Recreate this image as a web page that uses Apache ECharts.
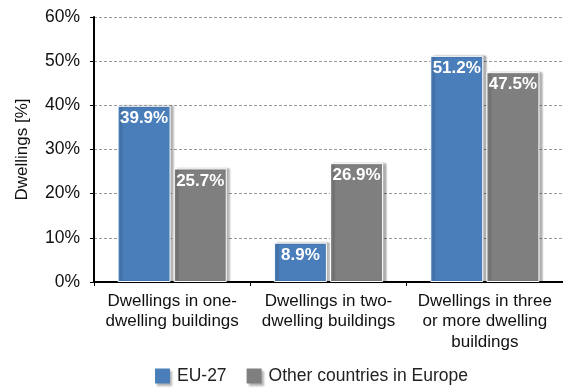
<!DOCTYPE html>
<html><head><meta charset="utf-8">
<script src="https://cdn.jsdelivr.net/npm/echarts@6/dist/echarts.min.js"></script>
<style>html,body{margin:0;padding:0;background:#fff}#c{width:563px;height:391px}</style>
</head><body><div id="c"></div>
<script>
const categories = ["Dwellings in one-\ndwelling buildings", "Dwellings in two-\ndwelling buildings", "Dwellings in three\nor more dwelling\nbuildings"];
const eu27 = [39.9, 8.9, 51.2];
const otherEurope = [25.7, 26.9, 47.5];
const yTicks = [0, 10, 20, 30, 40, 50, 60];
const seriesNames = ["EU-27", "Other countries in Europe"];

const font = "Liberation Sans, Arial, sans-serif";
const chart = echarts.init(document.getElementById('c'));
const labelCfg = {show: true, position: 'insideTop', distance: 4, color: '#fff', fontWeight: 'bold', fontSize: 17, fontFamily: font, formatter: p => p.value.toFixed(1) + '%'};
const shadow = {shadowColor: 'rgba(0,0,0,0.3)', shadowOffsetX: 3, shadowOffsetY: 0, shadowBlur: 2};
chart.setOption({
  animation: false,
  grid: {left: 94, top: 17, bottom: 109, width: 478},
  legend: {bottom: 1, left: 150, icon: 'rect', itemWidth: 15, itemHeight: 15, itemGap: 20,
    itemStyle: {shadowColor: 'rgba(0,0,0,0.3)', shadowOffsetX: 2, shadowOffsetY: 2, shadowBlur: 2, borderWidth: 0},
    textStyle: {fontSize: 17.5, fontFamily: font, color: '#222', padding: [0, 0, 0, 2]}, data: seriesNames},
  xAxis: {type: 'category', data: categories,
    axisLine: {lineStyle: {color: '#000', width: 2}},
    axisTick: {show: true, length: 4, lineStyle: {color: '#000'}},
    axisLabel: {fontSize: 17, fontFamily: font, color: '#111', lineHeight: 20.5, margin: 9, interval: 0}},
  yAxis: {type: 'value', min: 0, max: 60, interval: 10,
    name: 'Dwellings [%]', nameLocation: 'middle', nameGap: 63, nameRotate: 90,
    nameTextStyle: {fontSize: 17, fontFamily: font, color: '#111'},
    axisLine: {show: true, lineStyle: {color: '#000', width: 2}},
    axisTick: {show: true, length: 4, lineStyle: {color: '#000'}},
    axisLabel: {fontSize: 17.5, fontFamily: font, color: '#111', margin: 14,
      formatter: v => yTicks.includes(v) ? v + '%' : ''},
    splitLine: {show: true, lineStyle: {color: '#999', type: [3, 2], width: 1}}},
  series: [
    {name: seriesNames[0], type: 'bar', data: eu27, barWidth: 53, barGap: '6%',
      itemStyle: Object.assign({color: '#4a7ebb', borderColor: '#fff', borderWidth: 1}, shadow),
      label: labelCfg},
    {name: seriesNames[1], type: 'bar', data: otherEurope, barWidth: 53,
      itemStyle: Object.assign({color: '#7f7f7f', borderColor: '#fff', borderWidth: 1}, shadow),
      label: labelCfg}
  ]
});
</script></body></html>
